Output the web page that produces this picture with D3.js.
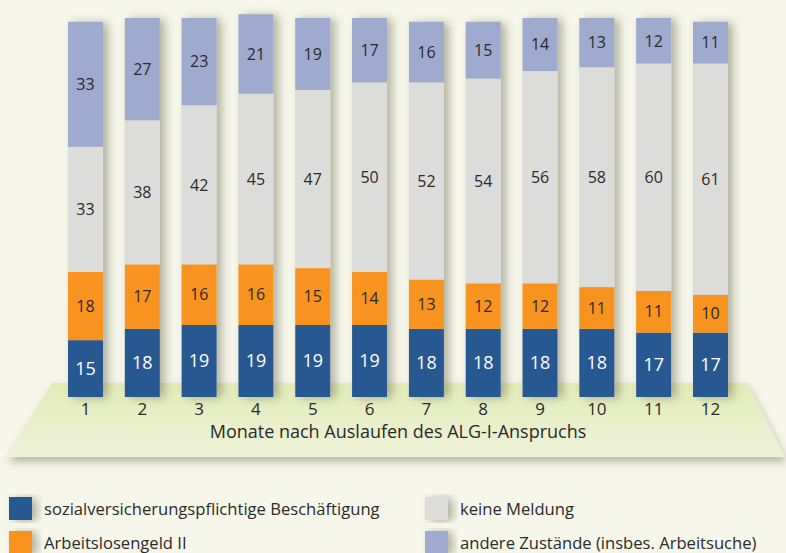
<!DOCTYPE html>
<html><head><meta charset="utf-8">
<script src="https://cdn.jsdelivr.net/npm/d3@7"></script>
<style>
html,body{margin:0;padding:0;background:#f6f7ea;}
svg{display:block;}
text{font-family:"Open Sans","Noto Sans",sans-serif;}
</style></head>
<body>
<svg id="c" width="786" height="553"></svg>
<script>
const months = ["1","2","3","4","5","6","7","8","9","10","11","12"];
const beschaeftigung = [15,18,19,19,19,19,18,18,18,18,17,17];
const alg2 = [18,17,16,16,15,14,13,12,12,11,11,10];
const keineMeldung = [33,38,42,45,47,50,52,54,56,58,60,61];
const andere = [33,27,23,21,19,17,16,15,14,13,12,11];
const seriesNames = ["sozialversicherungspflichtige Beschäftigung","Arbeitslosengeld II","keine Meldung","andere Zustände (insbes. Arbeitsuche)"];
const colors = ["#285892","#f7931e","#dcdddb","#9eabcf"];
const labelColors = ["#ffffff","#2a2a2a","#2a2a2a","#2a2a2a"];
const axisTitle = "Monate nach Auslaufen des ALG-I-Anspruchs";

const svg = d3.select("#c");
const defs = svg.append("defs");
const sh = defs.append("filter").attr("id","sh").attr("x","-30%").attr("y","-10%").attr("width","170%").attr("height","120%");
sh.append("feDropShadow").attr("dx",5).attr("dy",1).attr("stdDeviation",5).attr("flood-color","#5a5c40").attr("flood-opacity",0.45);
const fsh = defs.append("filter").attr("id","fsh").attr("x","-10%").attr("y","-20%").attr("width","120%").attr("height","160%");
fsh.append("feDropShadow").attr("dx",2).attr("dy",5).attr("stdDeviation",4).attr("flood-color","#6b6d55").attr("flood-opacity",0.45);
const lg = defs.append("linearGradient").attr("id","fl").attr("x1",0).attr("y1",0).attr("x2",0).attr("y2",1);
lg.append("stop").attr("offset","0%").attr("stop-color","#e2ecb8");
lg.append("stop").attr("offset","100%").attr("stop-color","#eef2d8");

// floor
svg.append("path")
  .attr("d","M52,383 L747,383 L785,457 L6,457 Z")
  .attr("fill","url(#fl)").attr("filter","url(#fsh)");

const x = d3.scaleBand().domain(months).range([68,728]).paddingInner(0.384).paddingOuter(0);
const y = d3.scaleLinear().domain([0,100]).range([397,18]);

const data = months.map((m,i)=>({m, s0:beschaeftigung[i], s1:alg2[i], s2:keineMeldung[i], s3:andere[i]}));
const stack = d3.stack().keys(["s0","s1","s2","s3"])(data);

const barG = svg.append("g");
barG.selectAll("rect.shadow").data(data).join("rect")
  .attr("x",d=>x(d.m)).attr("width",x.bandwidth())
  .attr("y",d=>y(d.s0+d.s1+d.s2+d.s3)).attr("height",d=>y(0)-y(d.s0+d.s1+d.s2+d.s3))
  .attr("fill","#dcdccc").attr("filter","url(#sh)");

stack.forEach((layer,k)=>{
  barG.selectAll("rect.l"+k).data(layer).join("rect")
    .attr("x",d=>x(d.data.m)).attr("width",x.bandwidth())
    .attr("y",d=>y(d[1])).attr("height",d=>y(d[0])-y(d[1]))
    .attr("fill",colors[k]);
  barG.selectAll("text.l"+k).data(layer).join("text")
    .attr("x",d=>x(d.data.m)+x.bandwidth()/2)
    .attr("y",d=>(y(d[0])+y(d[1]))/2)
    .attr("dy","0.36em").attr("text-anchor","middle")
    .attr("font-family","Roboto,sans-serif")
    .attr("font-size",k===0?18:16)
    .attr("font-weight",k===0?500:400)
    .attr("fill",labelColors[k])
    .text(d=>d[1]-d[0]);
});

// axis
const ax = svg.append("g").attr("transform","translate(0,397)")
  .call(d3.axisBottom(x).tickSize(0).tickPadding(6));
ax.select(".domain").remove();
ax.selectAll("text").attr("font-size",17).attr("fill","#2a2a2a").attr("font-family","Roboto,sans-serif");

svg.append("text").attr("x",398).attr("y",438).attr("text-anchor","middle")
  .attr("font-size",18).attr("fill","#2a2a2a").text(axisTitle);

// legend
const legPos = [[9,497],[9,531],[425,497],[425,531]];
const leg = svg.append("g");
seriesNames.forEach((n,i)=>{
  const [lx,ly]=legPos[i];
  leg.append("rect").attr("x",lx).attr("y",ly).attr("width",23).attr("height",23)
    .attr("fill",colors[i]).attr("filter","url(#sh)");
  leg.append("text").attr("x",lx+35).attr("y",ly+12).attr("dy","0.35em")
    .attr("font-size",16.6).attr("fill","#2a2a2a").text(n);
});
</script>
</body></html>
